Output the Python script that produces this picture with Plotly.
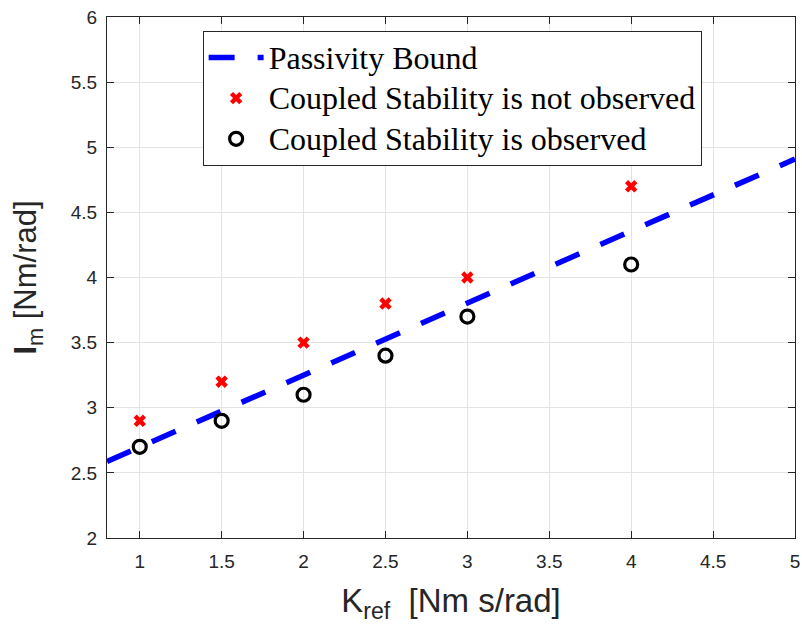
import plotly.graph_objects as go

# Data
bound_x = [0.8, 5.0]
bound_y = [2.587, 4.91]
unstable_x = [1, 1.5, 2, 2.5, 3, 4]
unstable_y = [2.9, 3.2, 3.5, 3.8, 4.0, 4.7]
stable_x = [1, 1.5, 2, 2.5, 3, 4]
stable_y = [2.7, 2.9, 3.1, 3.4, 3.7, 4.1]
x_ticks = [1, 1.5, 2, 2.5, 3, 3.5, 4, 4.5, 5]
x_ticklabels = ["1", "1.5", "2", "2.5", "3", "3.5", "4", "4.5", "5"]
y_ticks = [2, 2.5, 3, 3.5, 4, 4.5, 5, 5.5, 6]
y_ticklabels = ["2", "2.5", "3", "3.5", "4", "4.5", "5", "5.5", "6"]
names = ["Passivity Bound", "Coupled Stability is not observed", "Coupled Stability is observed"]

def big(s):
    return "<span style='font-size:32px'>" + s + "</span>"

fig = go.Figure()
fig.add_trace(go.Scatter(
    x=bound_x, y=bound_y, mode="lines", name=big(names[0]),
    line=dict(color="#0000ff", width=5.5, dash="26px,23px"),
))
fig.add_trace(go.Scatter(
    x=unstable_x, y=unstable_y, mode="markers", name=big(names[1]),
    marker=dict(symbol="x", size=11, color="#ff0000", line=dict(width=0)),
))
fig.add_trace(go.Scatter(
    x=stable_x, y=stable_y, mode="markers", name=big(names[2]),
    marker=dict(symbol="circle-open", size=13, color="black", line=dict(width=3.2, color="black")),
))

axis_common = dict(
    showgrid=True, gridcolor="#e3e3e3", gridwidth=1,
    showline=True, linecolor="#262626", linewidth=1, mirror="ticks",
    ticks="inside", ticklen=7, tickcolor="#262626", tickwidth=1,
    zeroline=False, automargin=False, ticklabeloverflow="allow",
    tickfont=dict(family="Liberation Sans, Arial", size=19, color="#262626"),
)

fig.update_layout(
    width=802, height=634,
    margin=dict(l=107, r=7, t=17, b=96),
    plot_bgcolor="white", paper_bgcolor="white",
    xaxis=dict(range=[0.8, 5.0001], tickvals=x_ticks, ticktext=x_ticklabels,
               ticklabelstandoff=6,
               title=dict(text="K<sub>ref</sub>  [Nm s/rad]",
                          font=dict(family="Liberation Sans, Arial", size=33, color="#262626"),
                          standoff=18),
               **axis_common),
    yaxis=dict(range=[2, 6.0001], tickvals=y_ticks, ticktext=y_ticklabels,
               ticklabelstandoff=5,
               title=dict(text="<b>I</b><sub>m</sub> [Nm/rad]",
                          font=dict(family="Liberation Sans, Arial", size=31, color="#262626"),
                          standoff=24),
               **axis_common),
    showlegend=True,
    legend=dict(
        x=0.139, y=0.973, xanchor="left", yanchor="top",
        bgcolor="white", bordercolor="#262626", borderwidth=1,
        font=dict(family="Liberation Serif, DejaVu Serif, serif", size=29, color="black"),
        itemwidth=55, tracegroupgap=0,
    ),
)

fig.write_html("out.html", config={"displayModeBar": False},
               post_script="document.body.style.margin='0';document.body.style.overflow='hidden';")
